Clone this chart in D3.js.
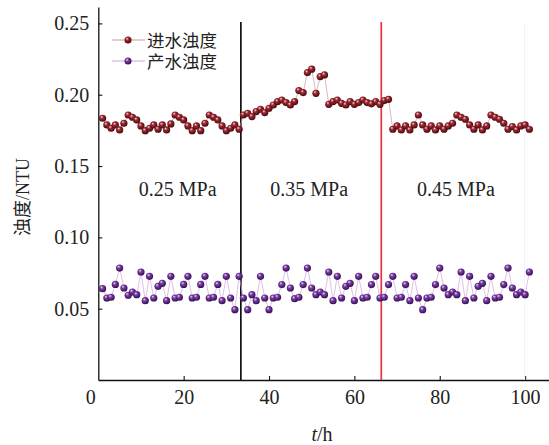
<!DOCTYPE html>
<html><head><meta charset="utf-8">
<script src="https://cdn.jsdelivr.net/npm/d3@7"></script>
<style>body{margin:0;background:#fff}svg{display:block}</style>
</head><body><svg id="c" width="549" height="445"></svg>
<script>
const hours = [1,2,3,4,5,6,7,8,9,10,11,12,13,14,15,16,17,18,19,20,21,22,23,24,25,26,27,28,29,30,31,32,33,34,35,36,37,38,39,40,41,42,43,44,45,46,47,48,49,50,51,52,53,54,55,56,57,58,59,60,61,62,63,64,65,66,67,68,69,70,71,72,73,74,75,76,77,78,79,80,81,82,83,84,85,86,87,88,89,90,91,92,93,94,95,96,97,98,99,100,101];
const inletTurbidity = [0.1835,0.1788,0.1765,0.1788,0.1753,0.1800,0.1858,0.1842,0.1823,0.1781,0.1748,0.1765,0.1788,0.1758,0.1788,0.1753,0.1795,0.1858,0.1842,0.1823,0.1781,0.1748,0.1781,0.1748,0.1800,0.1858,0.1842,0.1823,0.1781,0.1748,0.1765,0.1788,0.1758,
0.1858,0.1870,0.1847,0.1882,0.1898,0.1875,0.1905,0.1928,0.1952,0.1963,0.1945,0.1928,0.1952,0.2029,0.2015,0.2155,0.2179,0.2010,0.2127,0.2139,0.1933,0.1952,0.1963,0.1940,0.1928,0.1952,0.1933,0.1945,0.1963,0.1945,0.1936,0.1952,0.1933,0.1959,0.1968,
0.1758,0.1781,0.1753,0.1781,0.1753,0.1788,0.1858,0.1788,0.1758,0.1781,0.1753,0.1781,0.1758,0.1781,0.1800,0.1858,0.1842,0.1828,0.1788,0.1758,0.1788,0.1753,0.1781,0.1858,0.1842,0.1828,0.1800,0.1758,0.1777,0.1753,0.1781,0.1788,0.1758];
const productTurbidity = [0.0640,0.0575,0.0580,0.0670,0.0785,0.0645,0.0594,0.0617,0.0598,0.0757,0.0556,0.0727,0.0575,0.0657,0.0678,0.0556,0.0727,0.0575,0.0580,0.0670,0.0727,0.0575,0.0580,0.0670,0.0727,0.0575,0.0580,0.0670,0.0556,0.0727,0.0575,0.0493,0.0727,
0.0575,0.0493,0.0598,0.0556,0.0727,0.0575,0.0493,0.0575,0.0580,0.0669,0.0785,0.0645,0.0570,0.0580,0.0669,0.0785,0.0645,0.0598,0.0617,0.0598,0.0757,0.0556,0.0727,0.0575,0.0657,0.0678,0.0556,0.0727,0.0575,0.0580,0.0669,0.0727,0.0575,0.0580,0.0669,
0.0727,0.0575,0.0580,0.0669,0.0556,0.0727,0.0575,0.0493,0.0575,0.0580,0.0669,0.0785,0.0645,0.0598,0.0617,0.0598,0.0757,0.0556,0.0727,0.0575,0.0657,0.0678,0.0556,0.0727,0.0575,0.0580,0.0669,0.0785,0.0645,0.0598,0.0617,0.0598,0.0757];
const seriesNames = ["进水浊度","产水浊度"];
const xTicks = [0,20,40,60,80,100];
const yTicks = [0.05,0.10,0.15,0.20,0.25];
const dividers = [33.4, 66.3];
const pressureLabels = ["0.25 MPa","0.35 MPa","0.45 MPa"];
const pressureLabelPos = [18.6, 49.4, 83.8];

const svg = d3.select("#c");
const x = d3.scaleLinear().domain([0,105.6]).range([98.3,549]);
const y = d3.scaleLinear().domain([0,0.2615]).range([380,7]);
const serif = "'Liberation Serif','Times New Roman',serif";

const defs = svg.append("defs");
function grad(id, c0, c1, c2){
  const g = defs.append("radialGradient").attr("id",id).attr("cx","45%").attr("cy","42%").attr("r","62%").attr("fx","35%").attr("fy","30%");
  g.append("stop").attr("offset","0%").attr("stop-color",c0);
  g.append("stop").attr("offset","35%").attr("stop-color",c1);
  g.append("stop").attr("offset","100%").attr("stop-color",c2);
}
grad("gRed","#f8d4d4","#a02a34","#3c0508");
grad("gPur","#eedaf8","#7c3ca6","#2c0a48");

// axes
const xAxis = d3.axisBottom(x).tickValues(xTicks).tickSizeInner(-4).tickSizeOuter(0).tickPadding(10).tickFormat(d3.format("d"));
const gx = svg.append("g").attr("transform","translate(0,380)").call(xAxis);
gx.select(".domain").attr("stroke","#111").attr("stroke-width",1.3);
gx.selectAll(".tick line").attr("stroke","#111").attr("stroke-width",1.1);
gx.selectAll(".tick text").attr("font-family",serif).attr("font-size",20).attr("fill","#222").attr("dy","0.72em");
gx.selectAll(".tick").filter(d=>d===0).select("line").remove();
gx.selectAll(".tick").filter(d=>d===0).select("text").attr("dx",-8);

const yAxis = d3.axisLeft(y).tickValues(yTicks).tickSizeInner(-4).tickSizeOuter(0).tickPadding(9).tickFormat(d3.format(".2f"));
const gy = svg.append("g").attr("transform","translate(98.3,0)").call(yAxis);
gy.select(".domain").attr("stroke","#111").attr("stroke-width",1.3);
gy.selectAll(".tick line").attr("stroke","#111").attr("stroke-width",1.1);
gy.selectAll(".tick text").attr("font-family",serif).attr("font-size",20).attr("fill","#222");

// faint line near 100
svg.append("line").attr("x1",x(99.9)).attr("x2",x(99.9)).attr("y1",y(0.25)).attr("y2",y(0))
  .attr("stroke","#eef3f9").attr("stroke-width",1);

// divider lines
svg.append("line").attr("x1",x(dividers[0])).attr("x2",x(dividers[0])).attr("y1",y(0.251)).attr("y2",y(0))
  .attr("stroke","#111").attr("stroke-width",1.7);
svg.append("line").attr("x1",x(dividers[1])).attr("x2",x(dividers[1])).attr("y1",y(0.251)).attr("y2",y(0))
  .attr("stroke","#e8323c").attr("stroke-width",1.7);

// pressure labels
svg.selectAll("text.pl").data(pressureLabels).join("text").attr("class","pl")
  .attr("x",(d,i)=>x(pressureLabelPos[i])).attr("y",196).attr("text-anchor","middle")
  .attr("font-family",serif).attr("font-size",20).attr("fill","#222").text(d=>d);

// series
const line = d3.line().x((d,i)=>x(hours[i])).y(d=>y(d));
svg.append("path").datum(inletTurbidity).attr("d",line).attr("fill","none").attr("stroke","#cf9aa4").attr("stroke-width",0.7);
svg.append("path").datum(productTurbidity).attr("d",line).attr("fill","none").attr("stroke","#cfa6dc").attr("stroke-width",0.7);

svg.append("g").selectAll("circle").data(inletTurbidity).join("circle")
  .attr("cx",(d,i)=>x(hours[i])).attr("cy",d=>y(d)).attr("r",3.6).attr("fill","url(#gRed)");
svg.append("g").selectAll("circle").data(productTurbidity).join("circle")
  .attr("cx",(d,i)=>x(hours[i])).attr("cy",d=>y(d)).attr("r",3.6).attr("fill","url(#gPur)");

// legend
const leg = svg.append("g");
const legY = [40, 61];
const legStroke = ["#cf9aa4","#cfa6dc"];
const legFill = ["url(#gRed)","url(#gPur)"];
seriesNames.forEach((n,i)=>{
  leg.append("line").attr("x1",112).attr("x2",145).attr("y1",legY[i]).attr("y2",legY[i]).attr("stroke",legStroke[i]).attr("stroke-width",1);
  leg.append("circle").attr("cx",128).attr("cy",legY[i]).attr("r",3.5).attr("fill",legFill[i]);
  leg.append("text").attr("x",147).attr("y",legY[i]+6.5).attr("font-family","'Liberation Serif','Noto Sans CJK SC',serif").attr("font-size",17.5).attr("fill","#222").text(n);
});

// axis titles
const xt = svg.append("text").attr("x",322).attr("y",441).attr("text-anchor","middle").attr("font-family",serif).attr("font-size",20).attr("fill","#222");
xt.append("tspan").attr("font-style","italic").text("t");
xt.append("tspan").text("/h");
svg.append("text").attr("transform","translate(29,197) rotate(-90)").attr("text-anchor","middle")
  .attr("font-family","'Liberation Serif','Noto Sans CJK SC',serif").attr("font-size",18).attr("fill","#222").text("浊度/NTU");
</script></body></html>
